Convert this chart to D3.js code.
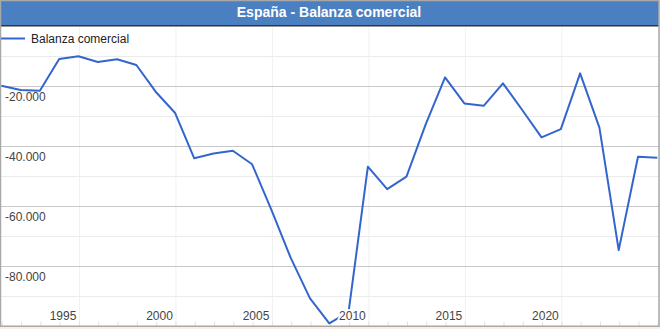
<!DOCTYPE html>
<html><head><meta charset="utf-8">
<script src="https://cdn.jsdelivr.net/npm/d3@7"></script>
<style>
html,body{margin:0;padding:0;background:#fcefe0;}
svg{display:block;font-family:Arial,"Liberation Sans",sans-serif;}
</style>
</head><body>
<svg id="c" width="660" height="329"></svg>
<script>
const title = "España - Balanza comercial";
const seriesName = "Balanza comercial";
const years = [1990,1991,1992,1993,1994,1995,1996,1997,1998,1999,2000,2001,2002,2003,2004,2005,2006,2007,2008,2009,2010,2011,2012,2013,2014,2015,2016,2017,2018,2019,2020,2021,2022,2023,2024];
const values = [-19900,-21300,-21600,-11000,-10100,-12000,-11100,-13000,-21900,-28900,-44100,-42500,-41600,-46100,-61300,-77300,-90800,-99100,-95300,-46900,-54400,-50200,-32700,-17100,-25800,-26600,-19100,-28000,-37100,-34400,-15800,-33900,-74700,-43600,-43900];
const xTickLabels = [1995,2000,2005,2010,2015,2020];
const xGridYears = [1994,1999,2004,2009,2014,2019];
const yMajorTicks = [-20000,-40000,-60000,-80000];
const yMinorTicks = [-10000,-30000,-50000,-70000,-90000];

const boxR = 659, plotT = 26, plotB = 326;
const svg = d3.select("#c");

const x = d3.scaleLinear().domain([1990, 2024]).range([1.3, 657.3]);
const xLabel = d3.scaleLinear().domain([1991.8, 2025.8]).range(x.range());
const y = d3.scaleLinear().domain([0, -100000]).range([plotT, plotB]);
const loc = d3.formatLocale({decimal: ",", thousands: ".", grouping: [3], currency: ["", "€"], minus: "-"});
const fmt = loc.format(",d");

svg.append("rect").attr("x", 0).attr("y", 0).attr("width", boxR).attr("height", plotB).attr("fill", "#fff");

svg.append("rect").attr("x", 0).attr("y", 0).attr("width", boxR).attr("height", 25).attr("fill", "#4a7fc1");
svg.append("rect").attr("x", 0).attr("y", 25).attr("width", boxR).attr("height", 1.5).attr("fill", "#333");
svg.append("text").attr("x", 329).attr("y", 16.5).attr("text-anchor", "middle")
  .attr("fill", "#fff").attr("font-weight", "bold").attr("font-size", 14).text(title);

const plot = svg.append("g");
plot.selectAll("line.vg").data(xGridYears).join("line").attr("class", "vg")
  .attr("x1", d => x(d) + 1).attr("x2", d => x(d) + 1).attr("y1", plotT + 1).attr("y2", plotB)
  .attr("stroke", "#f1f1f1").attr("stroke-width", 1);
plot.selectAll("line.hm").data(yMinorTicks).join("line").attr("class", "hm")
  .attr("x1", 0).attr("x2", boxR).attr("y1", d => y(d) + 0.5).attr("y2", d => y(d) + 0.5)
  .attr("stroke", "#ebebeb").attr("stroke-width", 1);
plot.selectAll("line.hM").data(yMajorTicks).join("line").attr("class", "hM")
  .attr("x1", 0).attr("x2", boxR).attr("y1", d => y(d) + 0.5).attr("y2", d => y(d) + 0.5)
  .attr("stroke", "#c8c8c8").attr("stroke-width", 1);
plot.selectAll("line.bt").data(years).join("line").attr("class", "bt")
  .attr("x1", d => x(d) + 1).attr("x2", d => x(d) + 1).attr("y1", plotB - 4.5).attr("y2", plotB)
  .attr("stroke", "#e2e2e2").attr("stroke-width", 1);

plot.selectAll("text.yl").data(yMajorTicks).join("text").attr("class", "yl")
  .attr("x", 5).attr("y", d => y(d) + 15.3).attr("font-size", 12).attr("fill", "#444")
  .text(d => fmt(d));

svg.append("defs").append("clipPath").attr("id", "clip").append("rect")
  .attr("x", 0).attr("y", plotT + 1).attr("width", boxR - 1).attr("height", plotB - plotT - 1);
const line = d3.line().x((d, i) => x(years[i])).y(d => y(d));
plot.append("path").datum(values).attr("d", line).attr("fill", "none")
  .attr("stroke", "#3366cc").attr("stroke-width", 2).attr("stroke-linejoin", "round")
  .attr("clip-path", "url(#clip)");

plot.selectAll("text.xl").data(xTickLabels).join("text").attr("class", "xl")
  .attr("x", d => xLabel(d)).attr("y", 319.5).attr("text-anchor", "middle")
  .attr("font-size", 12).attr("fill", "#444")
  .attr("stroke", "#fff").attr("stroke-width", 4).attr("stroke-linejoin", "round")
  .attr("paint-order", "stroke").text(d => d);

svg.append("line").attr("x1", 0).attr("x2", 25).attr("y1", 38.5).attr("y2", 38.5)
  .attr("stroke", "#3366cc").attr("stroke-width", 2);
svg.append("text").attr("x", 31).attr("y", 42.7).attr("font-size", 12).attr("fill", "#222").text(seriesName);

svg.append("rect").attr("x", 0.5).attr("y", 0.5).attr("width", boxR - 0.5).attr("height", plotB - 0.25)
  .attr("fill", "none").attr("stroke", "#a8a8a8").attr("stroke-width", 1.5);
</script>
</body></html>
